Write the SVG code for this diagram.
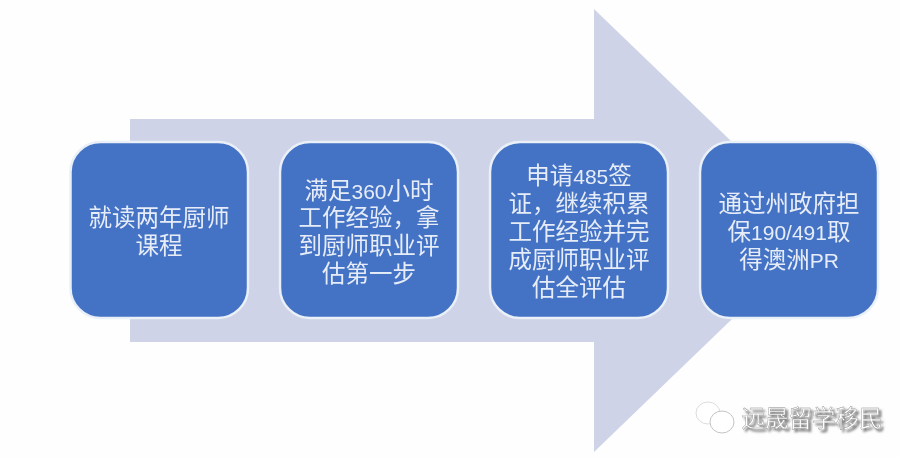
<svg xmlns="http://www.w3.org/2000/svg" width="900" height="458" viewBox="0 0 900 458">
<defs>
<style>
.box{fill:#4472c4;stroke:#eaf0f8;stroke-width:2.5}
.t{font-family:"Lato","Noto Sans CJK SC",sans-serif;font-size:23.5px;fill:#e6edf8;text-anchor:middle}
.n{font-family:"Liberation Sans","Noto Sans CJK SC",sans-serif;font-size:21px}
.wm{font-family:"Lato","Noto Sans CJK SC",sans-serif;font-size:23.500px;text-anchor:middle}
</style>
<filter id="soft" x="-5%" y="-5%" width="110%" height="110%"><feGaussianBlur stdDeviation="0.4"/></filter>
<filter id="shadow" x="-5%" y="-20%" width="115%" height="150%"><feDropShadow dx="2.500" dy="2.500" stdDeviation="0.8" flood-color="#666" flood-opacity="0.9"/></filter>
</defs>
<rect width="900" height="458" fill="#fefefe"/>
<g id="connectors">
<path d="M130 119H594V9L824 230.500L594 452V342H130Z" fill="#ced3e7"/>
</g>
<g id="node1"><rect class="box" x="70.500" y="142" width="177.500" height="176" rx="30"/>
<g class="t" filter="url(#soft)"><text x="159" y="226">就读两年厨师</text><text x="159" y="254">课程</text></g></g>
<g id="node2"><rect class="box" x="280" y="142" width="178" height="176" rx="30"/>
<g class="t" filter="url(#soft)"><text x="369" y="199">满足<tspan class="n">360</tspan>小时</text><text x="369" y="226">工作经验，拿</text><text x="369" y="254">到厨师职业评</text><text x="369" y="282">估第一步</text></g></g>
<g id="node3"><rect class="box" x="490" y="142" width="178" height="176" rx="30"/>
<g class="t" filter="url(#soft)"><text x="579" y="184">申请<tspan class="n">485</tspan>签</text><text x="579" y="212">证，继续积累</text><text x="579" y="240">工作经验并完</text><text x="579" y="268">成厨师职业评</text><text x="579" y="296">估全评估</text></g></g>
<g id="node4"><rect class="box" x="700" y="142" width="178" height="176" rx="30"/>
<g class="t" filter="url(#soft)"><text x="789" y="212">通过州政府担</text><text x="789" y="240">保<tspan class="n">190/491</tspan>取</text><text x="789" y="268">得澳洲<tspan class="n">PR</tspan></text></g></g>
<g id="watermark">
<ellipse cx="708" cy="413" rx="12" ry="11" fill="#fff" stroke="#dcdcdc" stroke-width="1"/>
<ellipse cx="722" cy="422" rx="12" ry="11" fill="#fff" stroke="#c4c4c4" stroke-width="1"/>
<text class="wm" x="812" y="427" fill="#fff" stroke="#8a8a8a" stroke-width="0.4" filter="url(#shadow)">远晟留学移民</text>
</g>
</svg>
